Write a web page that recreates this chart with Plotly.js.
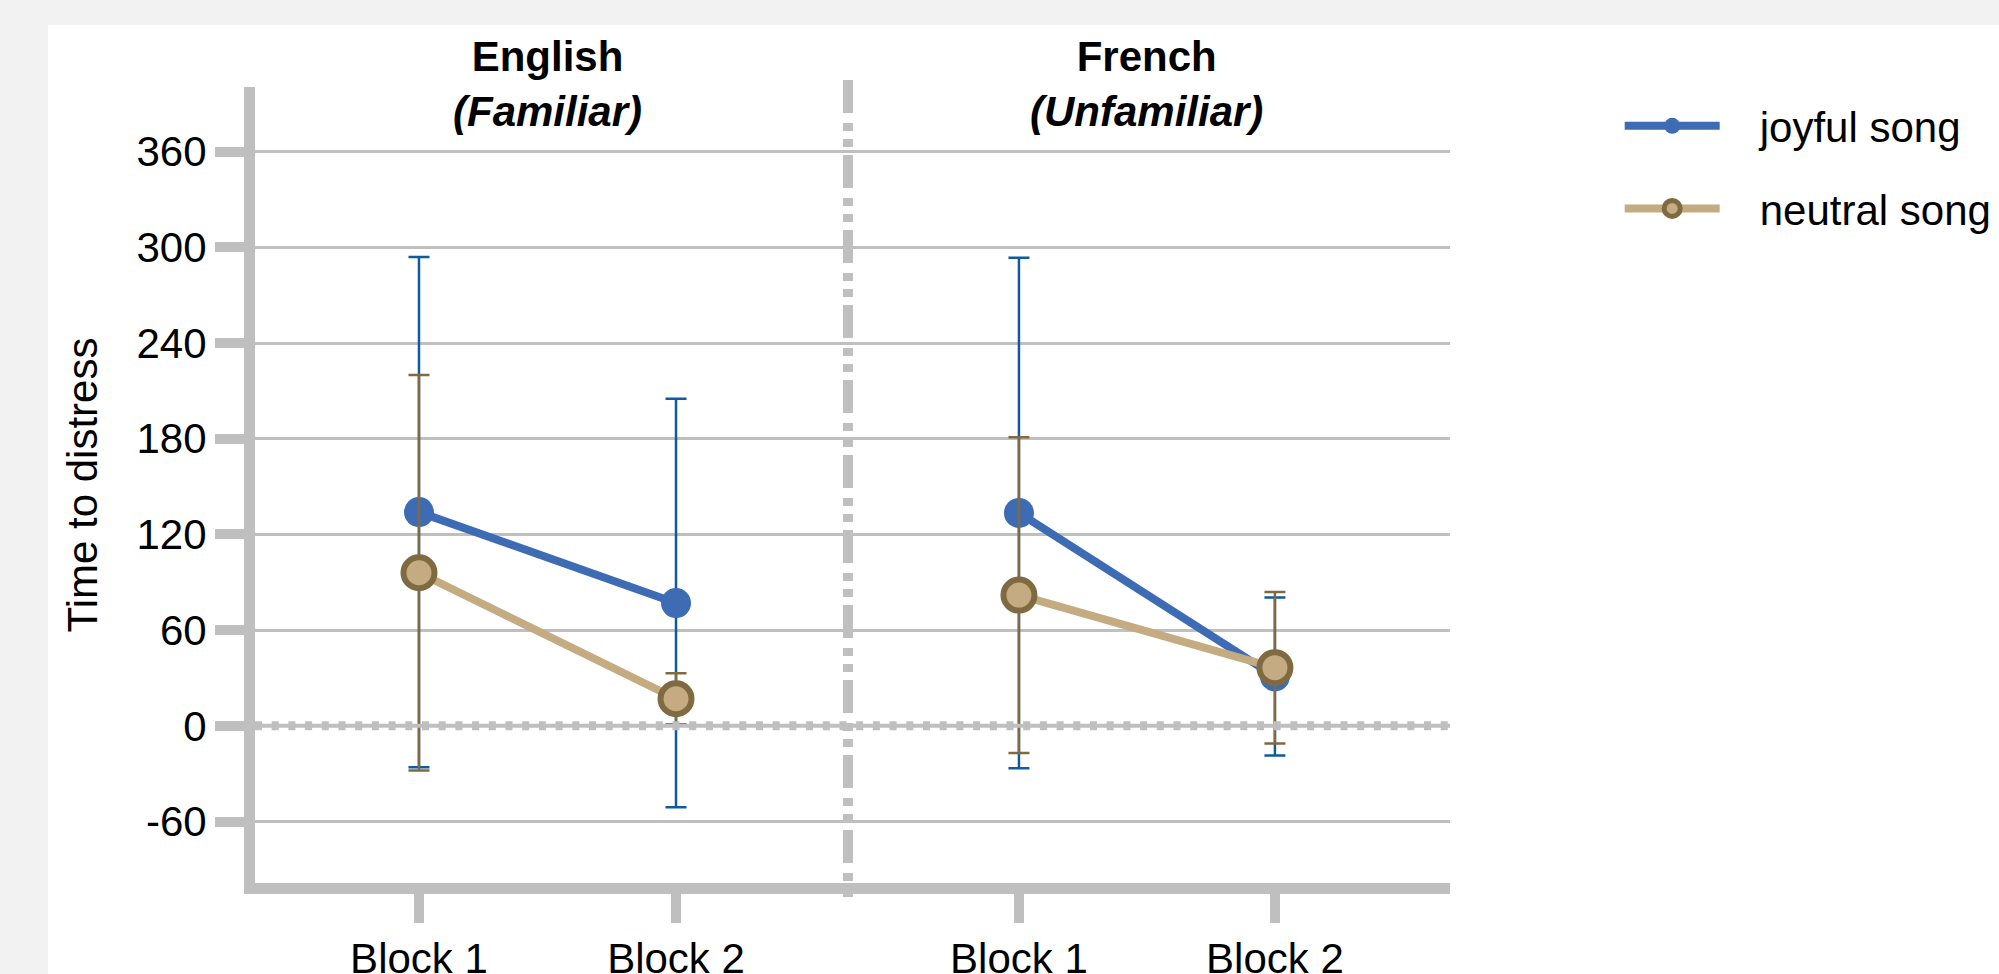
<!DOCTYPE html>
<html>
<head>
<meta charset="utf-8">
<script src="https://cdn.plot.ly/plotly-3.0.1.min.js"></script>
<style>html,body{margin:0;padding:0;background:#f2f2f2;}#chart{width:1999px;height:974px;}</style>
</head>
<body>
<div id="chart"></div>
<script>
// ---- data ----
const blocks = ["Block 1", "Block 2"];
const panelTitles = ["<b>English</b><br><b><i>(Familiar)</i></b>", "<b>French</b><br><b><i>(Unfamiliar)</i></b>"];
const seriesNames = ["joyful song", "neutral song"];
const joyfulEnglish = [134, 77];
const joyfulEnglishErr = [160, 128];
const neutralEnglish = [96, 17];
const neutralEnglishErr = [124, 16];
const joyfulFrench = [133.5, 31];
const joyfulFrenchErr = [160, 49.5];
const neutralFrench = [82, 36.5];
const neutralFrenchErr = [99, 47.5];
const yTicks = [-60, 0, 60, 120, 180, 240, 300, 360];
const yTickLabels = ["-60", "0", "60", "120", "180", "240", "300", "360"];

// ---- styles ----
const FONT = "Arial, 'Liberation Sans', sans-serif";
const GRAY = "#bfbfbf";
const BLUE = "#3d6cb4";
const BLUE_ERR = "#0f5aa0";
const TAN = "#c4ab82";
const BROWN = "#7f6a42";
const PAD = "\u00a0\u00a0\u00a0";

function joyful(y, err, xa, ya, show) {
  return {
    type: "scatter", mode: "lines+markers", x: blocks, y: y,
    xaxis: xa, yaxis: ya, name: PAD + seriesNames[0], legendgroup: "j", showlegend: show,
    line: {color: BLUE, width: 8},
    marker: {color: BLUE, size: 30, line: {width: 0}},
    error_y: {type: "data", array: err, visible: true, color: BLUE_ERR, thickness: 2.5, width: 10.5},
    hoverinfo: "skip"
  };
}
function neutral(y, err, xa, ya, show) {
  return {
    type: "scatter", mode: "lines+markers", x: blocks, y: y,
    xaxis: xa, yaxis: ya, name: PAD + seriesNames[1], legendgroup: "n", showlegend: show,
    line: {color: TAN, width: 8},
    marker: {color: TAN, size: 31, line: {width: 6, color: BROWN}},
    error_y: {type: "data", array: err, visible: true, color: BROWN, thickness: 2.5, width: 10.5},
    hoverinfo: "skip"
  };
}

const traces = [
  joyful(joyfulEnglish, joyfulEnglishErr, "x", "y", true),
  joyful(joyfulFrench, joyfulFrenchErr, "x2", "y2", false),
  neutral(neutralEnglish, neutralEnglishErr, "x", "y", true),
  neutral(neutralFrench, neutralFrenchErr, "x2", "y2", false)
];

const split = 0.4962;
const xCommon = {
  type: "category", showline: true, linecolor: GRAY, linewidth: 11,
  ticks: "outside", ticklen: 29, tickwidth: 10, tickcolor: GRAY,
  showgrid: false, zeroline: false,
  tickfont: {family: FONT, size: 42, color: "#000"}
};
const yRange = [-98.5, 400.5];

const layout = {
  width: 1999, height: 974,
  paper_bgcolor: "#f2f2f2", plot_bgcolor: "rgba(0,0,0,0)",
  margin: {l: 255, r: 549, t: 87, b: 91, pad: 0, autoexpand: false},
  font: {family: FONT, size: 42, color: "#000"},
  showlegend: true,
  xaxis: Object.assign({}, xCommon, {domain: [0, split], anchor: "y", range: [-0.638, 1.669]}),
  xaxis2: Object.assign({}, xCommon, {domain: [split, 1], anchor: "y2", range: [-0.668, 1.684]}),
  yaxis: {
    domain: [0, 1], anchor: "x", range: yRange, tickvals: yTicks, ticktext: yTickLabels,
    showline: true, linecolor: GRAY, linewidth: 11,
    ticks: "outside", ticklen: 29, tickwidth: 10, tickcolor: GRAY,
    showgrid: true, gridcolor: GRAY, gridwidth: 3, zeroline: false,
    tickfont: {family: FONT, size: 42, color: "#000"},
    title: {text: "Time to distress", font: {family: FONT, size: 42, color: "#000"}, standoff: 30}
  },
  yaxis2: {
    domain: [0, 1], anchor: "x2", matches: "y", range: yRange, tickvals: yTicks,
    showline: false, ticks: "", showticklabels: false,
    showgrid: true, gridcolor: GRAY, gridwidth: 3, zeroline: false
  },
  legend: {
    x: 1.142, y: 0.9937, xanchor: "left", yanchor: "top",
    bgcolor: "rgba(0,0,0,0)", borderwidth: 0,
    font: {family: FONT, size: 42, color: "#000"},
    itemwidth: 95, tracegroupgap: 25, traceorder: "grouped"
  },
  shapes: [
    {type: "rect", xref: "paper", yref: "paper", x0: -0.1732, x1: 1.47, y0: -0.13, y1: 1.0779,
     fillcolor: "#ffffff", line: {width: 0}, layer: "below"},
    {type: "line", xref: "paper", yref: "y", x0: 0, x1: 1, y0: 0, y1: 0,
     line: {color: GRAY, width: 4}, layer: "above"},
    {type: "line", xref: "paper", yref: "y", x0: 0, x1: 1, y0: 0, y1: 0,
     line: {color: GRAY, width: 9, dash: "7px,9.7px"}, layer: "above"},
    {type: "line", xref: "paper", yref: "paper", x0: split, x1: split, y0: 1.0088, y1: -0.0176,
     line: {color: GRAY, width: 10, dash: "33px,10px,8px,8px,8px,8px"}, layer: "above"}
  ],
  annotations: [
    {text: panelTitles[0], xref: "x", yref: "paper", x: 0.5, y: 1.0038, xanchor: "center", yanchor: "middle",
     showarrow: false, font: {family: FONT, size: 42, color: "#000"}},
    {text: panelTitles[1], xref: "x2", yref: "paper", x: 0.5, y: 1.0038, xanchor: "center", yanchor: "middle",
     showarrow: false, font: {family: FONT, size: 42, color: "#000"}}
  ]
};

Plotly.newPlot("chart", traces, layout, {displayModeBar: false, staticPlot: true});
</script>
</body>
</html>
